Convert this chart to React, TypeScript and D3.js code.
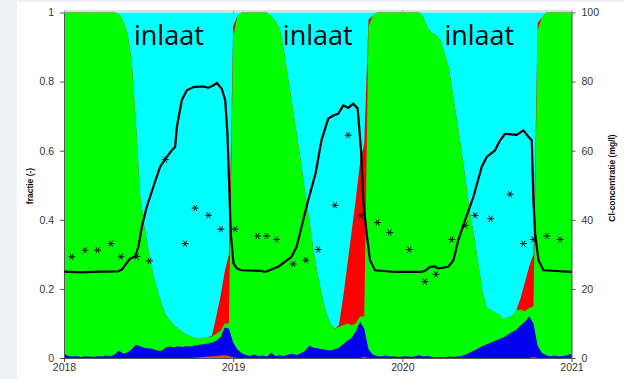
import React, { useRef, useEffect } from 'react'
import * as d3 from 'd3'

// fracties op een vast tijdraster: 2018 t/m 2021, stap 0.025 jaar (121 punten)
const startJaar = 2018
const stapJaar = 0.025

const oranje = [
  0, 0, 0, 0, 0, 0, 0, 0, 0, 0,
  0, 0, 0, 0, 0, 0, 0, 0, 0, 0,
  0, 0, 0, 0, 0, 0, 0, 0, 0, 0,
  0, 0.001, 0.002, 0.003, 0.004, 0.005, 0.006, 0.007, 0.008, 0.006,
  0.002, 0, 0, 0, 0, 0, 0, 0, 0, 0,
  0, 0, 0, 0, 0, 0, 0, 0, 0, 0,
  0, 0, 0, 0, 0, 0, 0, 0, 0, 0,
  0, 0.003, 0, 0, 0, 0, 0, 0, 0, 0,
  0, 0, 0, 0, 0, 0, 0, 0, 0, 0,
  0, 0, 0, 0, 0, 0, 0, 0, 0, 0,
  0, 0, 0, 0, 0, 0, 0, 0, 0, 0,
  0, 0.003, 0, 0, 0, 0, 0, 0, 0, 0,
  0
]

const blauw = [
  0.012, 0.006, 0.004, 0.006, 0.003, 0.005, 0.004, 0.003, 0.005, 0.004,
  0.007, 0.005, 0.010, 0.022, 0.012, 0.016, 0.025, 0.038, 0.034, 0.030,
  0.028, 0.026, 0.022, 0.020, 0.030, 0.033, 0.031, 0.034, 0.032, 0.035,
  0.033, 0.035, 0.036, 0.037, 0.038, 0.040, 0.044, 0.053, 0.080, 0.079,
  0.043, 0.025, 0.014, 0.009, 0.006, 0.010, 0.005, 0.007, 0.004, 0.015,
  0.006, 0.008, 0.006, 0.010, 0.012, 0.009, 0.014, 0.020, 0.036, 0.030,
  0.028, 0.025, 0.024, 0.022, 0.025, 0.030, 0.040, 0.050, 0.058, 0.078,
  0.105, 0.082, 0.025, 0.010, 0.006, 0.004, 0.007, 0.004, 0.005, 0.003,
  0.004, 0.006, 0.003, 0.005, 0.008, 0.004, 0.006, 0.003, 0.002, 0.003,
  0.002, 0.004, 0.003, 0.004, 0.006, 0.010, 0.016, 0.022, 0.028, 0.035,
  0.040, 0.045, 0.050, 0.055, 0.060, 0.068, 0.075, 0.082, 0.095, 0.105,
  0.120, 0.097, 0.035, 0.015, 0.008, 0.005, 0.007, 0.004, 0.006, 0.008,
  0.012
]

const groen = [
  0.988, 0.994, 0.996, 0.994, 0.997, 0.995, 0.996, 0.997, 0.995, 0.996,
  0.993, 0.995, 0.990, 0.973, 0.963, 0.924, 0.835, 0.642, 0.436, 0.350,
  0.282, 0.219, 0.178, 0.140, 0.095, 0.077, 0.064, 0.051, 0.043, 0.033,
  0.029, 0.022, 0.018, 0.018, 0.018, 0.017, 0.020, 0.018, 0.012, 0.015,
  0.885, 0.965, 0.986, 0.991, 0.994, 0.990, 0.995, 0.993, 0.996, 0.975,
  0.969, 0.947, 0.884, 0.800, 0.718, 0.641, 0.556, 0.460, 0.364, 0.280,
  0.212, 0.155, 0.106, 0.078, 0.060, 0.060, 0.055, 0.050, 0.037, 0.022,
  0.015, 0.035, 0.935, 0.980, 0.994, 0.996, 0.993, 0.996, 0.995, 0.997,
  0.996, 0.994, 0.997, 0.995, 0.992, 0.981, 0.949, 0.937, 0.933, 0.917,
  0.878, 0.836, 0.757, 0.676, 0.594, 0.500, 0.404, 0.328, 0.242, 0.155,
  0.105, 0.093, 0.080, 0.070, 0.052, 0.050, 0.047, 0.058, 0.045, 0.030,
  0.025, 0.050, 0.915, 0.970, 0.992, 0.995, 0.993, 0.996, 0.994, 0.992,
  0.988
]

const rood = [
  0, 0, 0, 0, 0, 0, 0, 0, 0, 0,
  0, 0, 0, 0, 0, 0, 0, 0, 0, 0,
  0, 0, 0, 0, 0, 0, 0, 0, 0, 0,
  0, 0, 0, 0, 0, 0.003, 0.050, 0.100, 0.150, 0.200,
  0.030, 0, 0, 0, 0, 0, 0, 0, 0, 0,
  0, 0, 0, 0, 0, 0, 0, 0, 0, 0,
  0, 0, 0, 0, 0, 0.005, 0.080, 0.170, 0.270, 0.360,
  0.445, 0.500, 0.020, 0, 0, 0, 0, 0, 0, 0,
  0, 0, 0, 0, 0, 0, 0, 0, 0, 0,
  0, 0, 0, 0, 0, 0, 0, 0, 0, 0,
  0, 0, 0, 0, 0, 0, 0, 0, 0.035, 0.085,
  0.120, 0.150, 0.020, 0, 0, 0, 0, 0, 0, 0,
  0
]

// berekende Cl-concentratie (mg/l)
const clTijd = [
  2018.000, 2018.095, 2018.213, 2018.320, 2018.343, 2018.361, 2018.391, 2018.420, 2018.440, 2018.460,
  2018.489, 2018.528, 2018.568, 2018.608, 2018.637, 2018.657, 2018.667, 2018.696, 2018.726, 2018.765,
  2018.824, 2018.852, 2018.883, 2018.904, 2018.933, 2018.953, 2018.966, 2018.976, 2018.986, 2019.002,
  2019.020, 2019.049, 2019.167, 2019.189, 2019.266, 2019.345, 2019.375, 2019.404, 2019.444, 2019.487,
  2019.522, 2019.562, 2019.592, 2019.621, 2019.651, 2019.680, 2019.710, 2019.736, 2019.756, 2019.769,
  2019.789, 2019.809, 2019.838, 2019.957, 2020.036, 2020.112, 2020.134, 2020.164, 2020.193, 2020.213,
  2020.272, 2020.302, 2020.331, 2020.371, 2020.420, 2020.469, 2020.499, 2020.548, 2020.578, 2020.608,
  2020.647, 2020.676, 2020.716, 2020.746, 2020.765, 2020.775, 2020.785, 2020.805, 2020.834, 2021.000
]
const clWaarde = [
  25.0, 24.8, 25.0, 25.1, 25.6, 26.9, 28.8, 29.3, 32.2, 37.9,
  43.7, 49.5, 55.3, 58.2, 60.1, 61.1, 66.8, 74.6, 77.5, 78.4,
  78.6, 78.2, 78.9, 79.6, 77.9, 74.6, 65.0, 50.6, 36.0, 27.4,
  26.0, 25.4, 25.2, 24.9, 26.4, 29.3, 32.2, 37.9, 45.7, 53.4,
  63.0, 69.3, 70.2, 70.7, 73.1, 72.4, 73.6, 72.2, 60.1, 45.7,
  36.0, 28.3, 25.4, 24.9, 24.9, 24.9, 25.2, 26.4, 26.5, 25.9,
  26.4, 28.3, 34.1, 39.9, 46.6, 55.3, 58.2, 60.1, 63.0, 64.9,
  64.7, 64.6, 65.9, 64.0, 63.0, 45.7, 36.0, 28.3, 25.4, 24.9
]

// gemeten Cl-concentratie (mg/l)
const meetTijd = [
  2018.046, 2018.124, 2018.199, 2018.278, 2018.337, 2018.430, 2018.505, 2018.598, 2018.716, 2018.775,
  2018.854, 2018.927, 2019.011, 2019.144, 2019.197, 2019.256, 2019.355, 2019.430, 2019.503, 2019.602,
  2019.680, 2019.756, 2019.854, 2019.925, 2020.041, 2020.134, 2020.199, 2020.292, 2020.371, 2020.430,
  2020.522, 2020.637, 2020.716, 2020.775, 2020.854, 2020.933
]
const meetCl = [
  29.3, 31.2, 31.2, 33.1, 29.3, 29.3, 28.1, 57.4, 33.1, 43.4,
  41.3, 37.3, 37.3, 35.3, 35.3, 34.3, 27.2, 28.3, 31.4, 44.2,
  64.5, 41.2, 39.2, 36.3, 31.4, 22.1, 24.2, 34.3, 38.4, 41.3,
  40.3, 47.4, 33.1, 34.3, 35.3, 34.3
]

const inlaatTijd = [2018.62, 2019.5, 2020.455]
const fractieTicks = [0, 0.2, 0.4, 0.6, 0.8, 1]
const clTicks = [0, 20, 40, 60, 80, 100]
const jaarTicks = [2018, 2019, 2020, 2021]

const lagen = ['oranje', 'blauw', 'groen', 'rood', 'inlaat']
const kleuren = {
  oranje: '#d9560a',
  blauw: '#0000f0',
  groen: '#00ff00',
  rood: '#ff0000',
  inlaat: '#00ffff'
}

const App = () => {
  const ref = useRef<SVGSVGElement>(null)

  useEffect(() => {
    const svg = d3.select(ref.current)
    svg.selectAll('*').remove()

    const x = d3.scaleLinear().domain([2018, 2021]).range([64, 571.5])
    const y = d3.scaleLinear().domain([0, 1]).range([358, 12.5])
    const yCl = d3.scaleLinear().domain([0, 100]).range([358, 12.5])

    svg.append('rect').attr('width', 625).attr('height', 379).attr('fill', '#eef2f8')
    svg.append('rect').attr('x', 17).attr('y', 2).attr('width', 608).attr('height', 377).attr('fill', 'white')

    const rijen = groen.map((g, i) => {
      const rest = 1 - oranje[i] - blauw[i] - g - rood[i]
      return {
        t: startJaar + i * stapJaar,
        oranje: oranje[i],
        blauw: blauw[i],
        groen: g,
        rood: rood[i],
        inlaat: Math.max(0, rest) // rest is inlaatwater
      }
    })

    const stack = d3.stack().keys(lagen)
    const series = stack(rijen as any)

    // bovenste laag eerst, elke laag van 0 tot zijn cumulatieve top
    const area = d3.area<any>()
      .x(d => x(d.data.t))
      .y0(y(0))
      .y1(d => y(d[1]))

    svg.append('g')
      .selectAll('path')
      .data(series.slice().reverse())
      .enter()
      .append('path')
      .attr('fill', d => kleuren[d.key])
      .attr('d', d => area(d))

    const fontFam = 'Liberation Sans, Arial, sans-serif'
    const opmaak = (g) => {
      g.attr('font-family', fontFam).attr('font-size', 10.5)
      g.select('.domain').attr('stroke', '#555')
      g.selectAll('.tick line').attr('stroke', '#555')
      g.selectAll('.tick text').attr('fill', '#333')
    }

    // kader boven
    svg.append('g')
      .attr('transform', 'translate(0,10.5)')
      .call(d3.axisBottom(x).tickValues(jaarTicks).tickSize(3).tickSizeOuter(0).tickFormat(() => ''))
      .call(g => {
        g.select('.domain').attr('stroke', '#bbb')
        g.selectAll('.tick line').attr('stroke', '#999')
      })

    svg.append('g')
      .attr('transform', 'translate(64,0)')
      .call(d3.axisLeft(y).tickValues(fractieTicks).tickSize(4).tickSizeOuter(0).tickPadding(6).tickFormat(d => String(d)))
      .call(opmaak)

    svg.append('g')
      .attr('transform', 'translate(571.5,0)')
      .call(d3.axisRight(yCl).tickValues(clTicks).tickSize(4).tickSizeOuter(0).tickPadding(6))
      .call(opmaak)

    svg.append('g')
      .attr('transform', 'translate(0,358)')
      .call(d3.axisBottom(x).tickValues(jaarTicks).tickSize(4).tickSizeOuter(0).tickPadding(2).tickFormat(d3.format('d')))
      .call(opmaak)

    const line = d3.line<number>()
      .x((d, i) => x(clTijd[i]))
      .y(d => yCl(d))

    svg.append('path')
      .datum(clWaarde)
      .attr('fill', 'none')
      .attr('stroke', '#000')
      .attr('stroke-width', 2.2)
      .attr('stroke-linejoin', 'round')
      .attr('d', line)

    const ster = d3.symbol().type(d3.symbolAsterisk).size(34)
    svg.append('g')
      .selectAll('path')
      .data(meetCl)
      .enter()
      .append('path')
      .attr('transform', (d, i) => `translate(${x(meetTijd[i])},${yCl(d)}) rotate(90)`)
      .attr('d', ster())
      .attr('fill', 'none')
      .attr('stroke', '#111')
      .attr('stroke-width', 1)

    svg.append('g')
      .selectAll('text')
      .data(inlaatTijd)
      .enter()
      .append('text')
      .attr('x', d => x(d))
      .attr('y', 44.5)
      .attr('text-anchor', 'middle')
      .attr('font-family', 'Open Sans, sans-serif')
      .attr('font-size', 27)
      .attr('fill', '#000')
      .text('inlaat')

    svg.append('text')
      .attr('transform', 'translate(33,186) rotate(-90)')
      .attr('text-anchor', 'middle')
      .attr('font-family', fontFam)
      .attr('font-weight', 'bold')
      .attr('font-size', 8.5)
      .attr('fill', '#111')
      .text('fractie (-)')

    svg.append('text')
      .attr('transform', 'translate(615,178) rotate(-90)')
      .attr('text-anchor', 'middle')
      .attr('font-family', fontFam)
      .attr('font-weight', 'bold')
      .attr('font-size', 8.5)
      .attr('fill', '#111')
      .text('Cl-concentratie (mg/l)')
  }, [])

  return (
    <div style={{ position: 'absolute', left: 0, top: 0 }}>
      <svg ref={ref} width={625} height={379} style={{ display: 'block' }} />
    </div>
  )
}

export default App
